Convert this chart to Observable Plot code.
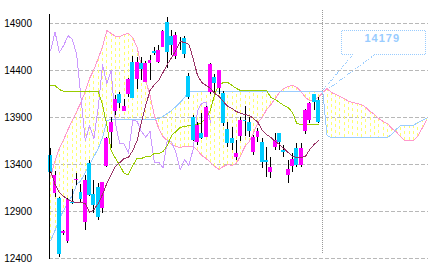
<!DOCTYPE html>
<html><head><meta charset="utf-8">
<script src="https://cdn.jsdelivr.net/npm/d3@7"></script>
<script src="https://cdn.jsdelivr.net/npm/@observablehq/plot@0.6"></script>
<style>html,body{margin:0;padding:0;background:#fff;} svg{display:block;}</style>
</head><body><div id="chart"></div>
<script>
// Candles (daily)
const opens  = [13500,13095,13040,12670,12584,13000,13230,13105,12786,13414,13081,13152,12928,13380,13743,13964,14145,13964,14145,14488,14303,14470,14275,14478,14606,14488,14650,14915,14760,14550,14725,14745,14336,13903,13637,13730,13684,14169,14322,14210,14160,13772,13680,13471,13698,13870,13850,13531,13684,13637,13440,13318,13584,13727,13545,13283,13382,13566,13389,13754,13868,14145,14081];
const highs  = [13570,13330,13050,12700,13040,13130,13300,13190,13283,13440,13230,13200,13210,13690,13900,14134,14170,14090,14320,14545,14540,14540,14500,14560,14650,14665,14825,14960,14825,14800,14755,14760,14370,13920,13850,13945,14020,14470,14357,14400,14175,13850,13797,13655,13900,14020,13903,13710,13783,13673,13584,13478,13730,13730,13602,13443,13517,13620,13620,13990,14060,14150,14110];
const lows   = [13300,13050,12415,12650,12560,12975,13180,12990,12700,13060,12875,12804,12880,13370,13573,13920,14000,13960,14110,14100,14195,14290,14270,14290,14560,14470,14640,14420,14560,14520,14610,14525,14090,13640,13600,13662,13684,14150,14155,14150,13800,13584,13549,13442,13640,13700,13690,13495,13637,13354,13265,13251,13550,13550,13478,13195,13315,13371,13371,13720,13833,13975,13833];
const closes = [13320,13283,12440,12690,13028,12990,13240,13024,13230,13070,12964,12840,13205,13680,13850,14088,14052,14017,14303,14105,14488,14415,14478,14506,14584,14613,14810,14595,14665,14770,14735,14570,14116,13655,13815,13677,14003,14464,14258,14400,13833,13620,13620,13520,13868,13860,13751,13690,13751,13424,13425,13365,13655,13637,13530,13343,13453,13389,13566,13974,14052,14063,13850];

// Ichimoku lines
const senkouA = [13272,13443,13570,13666,13772,13868,13964,14060,14177,14315,14411,14528,14655,14826,14794,14762,14762,14783,14794,14751,14645,14453,14294,14134,13921,13783,13698,13655,13613,13592,13581,13592,13592,13592,13549,13496,13464,13421,13379,13347,13379,13400,13389,13411,13496,13592,13645,13741,13847,13900,13985,14038,14102,14166,14209,14230,14241,14219,14177,14113,14081,14092,14113,14166,14209,14166,14145,14124,14102,14070,14060,14049,14038,14006,13964,13932,13889,13858,13836,13783,13751,13698,13655,13655,13655,13698,13783,13868];
const senkouB = [12591,12698,12826,12911,12996,13070,13187,13230,13315,13400,13485,13570,13687,13868,13879,13879,13879,13879,13879,13879,13879,13879,13879,13879,13879,13890,13911,13943,13975,14017,14060,14113,14179,14179,14179,14179,14179,14179,14179,14179,14179,14179,14179,14179,14179,14179,14179,14179,14179,14179,14179,14179,14179,14179,14179,14179,14179,14179,14179,14179,14179,14179,14179,14179,13709,13687,13687,13687,13687,13687,13687,13687,13687,13687,13687,13687,13687,13687,13687,13719,13772,13815,13815,13815,13815,13847,13868,13889];
const kijun   = [14241,14241,14198,14177,14177,14177,14177,14177,14177,14177,14177,14177,14038,13815,13549,13464,13389,13304,13294,13389,13464,13464,13485,13485,13517,13517,13538,13602,13709,13751,13794,13804,13815,13815,13826,13847,13900,13975,14155,14251,14272,14272,14241,14209,14187,14187,14187,14187,14187,14187,14187,14113,14092,14060,14028,14006,13953,13836,13826,13826,13826,13826,13826];
const movingAvg = [13326,13187,13102,13060,13028,13006,12996,12996,12985,12889,12921,12985,13081,13198,13294,13379,13421,13464,13475,13549,13655,13847,14028,14187,14251,14294,14379,14464,14538,14613,14709,14698,14677,14528,14347,14272,14241,14209,14155,14124,14070,14017,13996,13964,13943,13932,13921,13889,13847,13762,13719,13687,13645,13613,13570,13528,13485,13475,13475,13485,13560,13613,13655];
const chikouLag = 25;
const yTicks = [12400,12900,13400,13900,14400,14900];
const calloutValue = 14179;
const calloutLabel = "14179";

const candles = opens.map((o, i) => ({i, o, h: highs[i], l: lows[i], c: closes[i]}));
const cloud = senkouA.map((a, i) => ({i, a, b: senkouB[i]}));
const kijunData = kijun.map((v, i) => ({i, v}));
const maData = movingAvg.map((v, i) => ({i, v}));
const chikouData = closes.slice(chikouLag).map((v, i) => ({i, v}));
const currentIndex = closes.length;

const chart = Plot.plot({
  width: 433, height: 272,
  marginLeft: 48.5, marginRight: 5, marginTop: 14, marginBottom: 14,
  style: {background: "#fff", fontFamily: "'Liberation Sans', Arial, sans-serif", fontSize: "10px", color: "#000"},
  x: {type: "linear", domain: [-0.4, 87.5], axis: null},
  y: {domain: [12400, 14996], axis: null},
  marks: [
    Plot.ruleY(yTicks, {stroke: "#b8b8b8", strokeDasharray: "4,2"}),
    Plot.ruleX(cloud, {x: "i", y1: "a", y2: "b", stroke: "#ffff70", strokeDasharray: "3,3"}),
    Plot.ruleX([currentIndex], {stroke: "#999", strokeDasharray: "1,1", insetTop: -4, insetBottom: 4}),
    Plot.line(cloud, {x: "i", y: "a", stroke: "#ff99cc", strokeWidth: 1}),
    Plot.line(cloud, {x: "i", y: "b", stroke: "#99ccff", strokeWidth: 1}),
    Plot.line(chikouData, {x: "i", y: "v", stroke: "#cc99ff", strokeWidth: 1}),
    Plot.line(kijunData, {x: "i", y: "v", stroke: "#99cc00", strokeWidth: 1}),
    Plot.ruleX(candles, {x: "i", y1: "l", y2: "h", stroke: "#000", strokeWidth: 1}),
    Plot.rect(candles, {x1: d => d.i - 0.45, x2: d => d.i + 0.45, y1: "o", y2: "c",
      fill: d => d.c >= d.o ? "#ff00ff" : "#00ccff"}),
    Plot.line(maData, {x: "i", y: "v", stroke: "#993366", strokeWidth: 1}),
    Plot.frame({anchor: "left", stroke: "#000"}),
    Plot.axisY(yTicks, {tickSize: 0, tickPadding: 17, tickFormat: d3.format("d"), fill: "#000"})
  ]
});
d3.select(chart).attr("shape-rendering", "crispEdges");

// callout anchored on current senkou span B value
const ax = chart.scale("x").apply(currentIndex);
const ay = chart.scale("y").apply(calloutValue);
const g = d3.select(chart).append("g")
  .attr("fill", "none").attr("stroke", "#99ccff").attr("stroke-dasharray", "1,1");
const L = ax + 19, R = ax + 103.5, T = ay - 60, B = ay - 36.5;
const g1 = ax + 31, g2 = ax + 53;
g.append("path").attr("d",
  `M${g1},${B} L${L},${B} L${L},${T} L${R},${T} L${R},${B} L${g2},${B}`);
g.append("path").attr("d", `M${g1},${B} L${ax + 1},${ay - 1}`);
g.append("path").attr("d", `M${g2},${B} L${ax + 5},${ay - 1}`);
d3.select(chart).append("text")
  .attr("x", ax + 60).attr("y", ay - 49)
  .attr("text-anchor", "middle")
  .attr("fill", "#99ccff").attr("font-weight", "bold")
  .attr("font-size", "11px").attr("letter-spacing", "1px")
  .attr("font-family", "'Liberation Sans', Arial, sans-serif")
  .text(calloutLabel);

document.getElementById("chart").appendChild(chart);
</script></body></html>
